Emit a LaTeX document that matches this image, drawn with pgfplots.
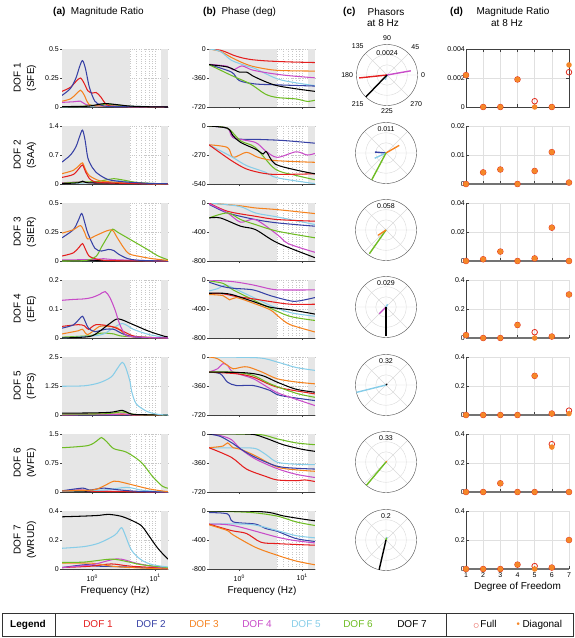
\documentclass[border=0pt]{standalone}
\usepackage{fontspec}
\setmainfont{Liberation Sans}
\newfontfamily\djv{DejaVu Sans}
\usepackage{pgfplots}
\pgfplotsset{compat=1.18}
\usepgfplotslibrary{polar}
\definecolor{c1}{RGB}{228,30,30}
\definecolor{c2}{RGB}{55,65,165}
\definecolor{c3}{RGB}{245,130,30}
\definecolor{c4}{RGB}{200,75,200}
\definecolor{c5}{RGB}{135,205,232}
\definecolor{c6}{RGB}{110,188,35}
\definecolor{c7}{RGB}{0,0,0}
\definecolor{fullc}{RGB}{225,45,30}
\definecolor{diagc}{RGB}{245,135,40}
\definecolor{bg}{RGB}{230,230,230}
\pgfplotsset{/pgf/number format/assume math mode=true}
\pgfplotsset{
  mybase/.style={scale only axis, height=58pt, scaled ticks=false,
    axis x line*=bottom, axis y line*=left,
    axis line style={black!75, line width=0.4pt},
    tick style={black!75, line width=0.4pt},
    major tick length=2pt, minor tick length=1.2pt,
    ticklabel style={font=\fontsize{7}{8}\selectfont},
    yticklabel style={inner sep=1pt},
    xlabel style={font=\fontsize{10}{12}\selectfont, yshift=2pt},
    every axis plot/.append style={line width=1.05pt, smooth, mark=none}},
  myfr/.style={mybase, width=106pt, xmin=0.33, xmax=16,
    xtick={1,10}, xticklabels={}, minor xtick={0.4,0.5,0.6,0.7,0.8,0.9,2,3,4,5,6,7,8,9},
    xmajorgrids, xminorgrids, ymajorgrids,
    grid style={black!22, dotted, line width=0.3pt}, tick align=outside},
  mydd/.style={mybase, width=103pt, xmin=1, xmax=7, xtick={1,2,3,4,5,6,7}, xticklabels={},
    ymin=0, clip=false, grid=major, grid style={black!12, line width=0.4pt},
    tick align=inside, major tick length=3pt,
    x axis line style={black!55, line width=1.1pt}},
  mypol/.style={scale only axis, width=61pt, height=61pt, ymin=0, scaled ticks=false,
    xtick={0,45,90,135,180,225,270,315}, xticklabels={}, yticklabels={},
    grid=major, grid style={black!15, line width=0.4pt},
    axis line style={black!70, line width=0.4pt}, y axis line style={draw=none},
    major tick length=0pt,
    ticklabel style={font=\fontsize{7}{8}\selectfont},
    every axis plot/.append style={line width=1.4pt}, clip=false},
  myfu/.style={only marks, mark=o, mark size=2.8pt, mark options={fullc, line width=0.8pt}},
  mydg/.style={only marks, mark=*, mark size=2.2pt, mark options={diagc, draw=diagc}},
}
\newcommand{\band}[1]{%
  \addplot[fill=bg, draw=none, sharp plot, forget plot] coordinates {(0.33,#1)(4,#1)} \closedcycle;
  \addplot[fill=bg, draw=none, sharp plot, forget plot] coordinates {(12.5,#1)(16,#1)} \closedcycle;}
\begin{document}
\begin{tikzpicture}
\path[use as bounding box] (0,0) rectangle (575pt,-638pt);
% headers
\begin{scope}[every node/.style={font=\fontsize{10}{12}\selectfont, inner sep=0pt}]
\node[anchor=west] at (53pt,-12pt) {\textbf{(a)}\ \ Magnitude Ratio};
\node[anchor=west] at (203pt,-12pt) {\textbf{(b)}\ \ Phase (deg)};
\node[anchor=west] at (343pt,-12pt) {\textbf{(c)}};
\node at (386pt,-12pt) {Phasors};
\node at (383pt,-23pt) {at 8 Hz};
\node[anchor=west] at (450pt,-12pt) {\textbf{(d)}};
\node at (513pt,-12pt) {Magnitude Ratio};
\node at (507pt,-23pt) {at 8 Hz};
\end{scope}
% row labels
\begin{scope}[every node/.style={font=\fontsize{10}{13.5}\selectfont, rotate=90, align=center}]
\node at (25pt,-78pt) {DOF 1\\(SFE)};
\node at (25pt,-155pt) {DOF 2\\(SAA)};
\node at (25pt,-232pt) {DOF 3\\(SIER)};
\node at (25pt,-309pt) {DOF 4\\(EFE)};
\node at (25pt,-386pt) {DOF 5\\(FPS)};
\node at (25pt,-463pt) {DOF 6\\(WFE)};
\node at (25pt,-540pt) {DOF 7\\(WRUD)};
\end{scope}

%================ ROW 1 =================
\begin{semilogxaxis}[myfr, at={(62pt,-49pt)}, anchor=north west, ymin=0, ymax=0.5, ytick={0,0.25,0.5}, yticklabels={0,0.25,0.5}]
\band{0.5}
\addplot[c5] coordinates {(0.33,0.002)(1.5,0.005)(3,0.008)(16,0)};
\addplot[c6] coordinates {(0.33,0.003)(0.7,0.005)(0.9,0.02)(1.1,0.01)(1.6,0.025)(2.2,0.02)(4,0.005)(16,0)};
\addplot[c4] coordinates {(0.33,0.04)(0.5,0.045)(0.65,0.05)(0.8,0.02)(1.2,0.01)(3,0.003)(16,0)};
\addplot[c3] coordinates {(0.33,0.05)(0.45,0.07)(0.55,0.11)(0.65,0.145)(0.75,0.10)(0.87,0.03)(1.2,0.01)(16,0)};
\addplot[c1] coordinates {(0.33,0.135)(0.45,0.17)(0.55,0.22)(0.65,0.25)(0.75,0.20)(0.85,0.14)(1.0,0.12)(1.15,0.125)(1.35,0.09)(1.7,0.02)(2.5,0.005)(16,0)};
\addplot[c2] coordinates {(0.33,0.10)(0.45,0.16)(0.55,0.25)(0.63,0.35)(0.7,0.40)(0.78,0.33)(0.9,0.17)(1.1,0.05)(1.4,0.015)(2,0.005)(16,0)};
\addplot[c7] coordinates {(0.33,0.004)(0.8,0.006)(1.2,0.02)(1.6,0.03)(2.5,0.02)(4,0.008)(8,0.002)(16,0)};
\end{semilogxaxis}
\begin{semilogxaxis}[myfr, at={(209pt,-49pt)}, anchor=north west, ymin=-720, ymax=0, ytick={-720,-360,0}, yticklabels={-720,-360,0}]
\band{-720}
\addplot[c1] coordinates {(0.33,0)(0.5,-15)(0.65,-46)(0.8,-76)(1.05,-105)(1.5,-130)(2.6,-147)(6,-160)(16,-168)};
\addplot[c3] coordinates {(0.33,0)(0.5,-30)(0.75,-105)(1.2,-180)(1.8,-223)(4,-265)(16,-274)};
\addplot[c5] coordinates {(0.33,0)(0.5,-30)(0.75,-140)(1.3,-210)(1.8,-244)(4,-370)(8,-420)(16,-455)};
\addplot[c4] coordinates {(0.33,-190)(0.65,-215)(0.8,-260)(1.1,-210)(1.6,-260)(3,-300)(6,-330)(16,-358)};
\addplot[c2] coordinates {(0.33,-194)(0.75,-286)(1,-392)(1.8,-434)(4,-445)(16,-460)};
\addplot[c6] coordinates {(0.33,-194)(0.75,-328)(1.5,-434)(2.6,-560)(4,-602)(8,-620)(12,-650)(16,-636)};
\addplot[c7] coordinates {(0.33,-194)(0.65,-223)(1,-286)(1.3,-286)(1.8,-350)(4,-455)(16,-526)};
\end{semilogxaxis}
\begin{polaraxis}[mypol, at={(387pt,-75pt)}, anchor=center, ymax=0.0024, ytick={0.0008,0.0016},
  xticklabels={0,45,90,135,180,215,225,270}]
\addplot[c5] coordinates {(0,0)(250,0.0004)};
\addplot[c1] coordinates {(0,0)(186,0.0022)};
\addplot[c4] coordinates {(0,0)(10,0.0019)};
\addplot[c7] coordinates {(0,0)(226,0.0024)};
\node[font=\fontsize{7}{8}\selectfont] at (axis cs:90,0.0017) {0.0024};
\end{polaraxis}
\begin{axis}[mydd, axis lines=box, at={(466pt,-49pt)}, anchor=north west, ymax=0.004, ytick={0,0.002,0.004}, yticklabels={0,0.002,0.004}]
\addplot[myfu] coordinates {(1,0.0022)(2,0)(3,0)(4,0.0019)(5,0.0004)(6,0)(7,0.0024)};
\addplot[mydg] coordinates {(1,0.0022)(2,0)(3,0)(4,0.0019)(5,0)(6,0)(7,0.0029)};
\end{axis}

%================ ROW 2 =================
\begin{semilogxaxis}[myfr, at={(62pt,-126pt)}, anchor=north west, ymin=0, ymax=1.4, ytick={0,0.7,1.4}, yticklabels={0,0.7,1.4}]
\band{1.4}
\addplot[c5] coordinates {(0.33,0.02)(1,0.03)(2.5,0.08)(4,0.04)(8,0.01)(16,0)};
\addplot[c4] coordinates {(0.33,0.03)(0.7,0.05)(1,0.03)(3,0.02)(16,0)};
\addplot[c6] coordinates {(0.33,0.02)(0.7,0.05)(1.2,0.06)(1.8,0.11)(2.2,0.13)(3,0.1)(5,0.04)(10,0.01)(16,0)};
\addplot[c7] coordinates {(0.33,0.01)(0.6,0.03)(0.7,0.07)(0.85,0.03)(2,0.02)(16,0.005)};
\addplot[c3] coordinates {(0.33,0.25)(0.5,0.33)(0.62,0.45)(0.7,0.51)(0.78,0.35)(0.9,0.2)(1.3,0.08)(2,0.05)(4,0.02)(16,0)};
\addplot[c1] coordinates {(0.33,0.16)(0.5,0.23)(0.62,0.38)(0.7,0.46)(0.78,0.3)(0.95,0.1)(1.5,0.03)(16,0)};
\addplot[c2] coordinates {(0.33,0.53)(0.45,0.7)(0.55,0.9)(0.63,1.15)(0.7,1.3)(0.77,1.05)(0.85,0.63)(1.0,0.4)(1.15,0.28)(1.7,0.12)(2.8,0.06)(7,0.02)(16,0.005)};
\end{semilogxaxis}
\begin{semilogxaxis}[myfr, at={(209pt,-126pt)}, anchor=north west, ymin=-540, ymax=0, ytick={-540,-270,0}, yticklabels={-540,-270,0}]
\band{-540}
\addplot[c2] coordinates {(0.33,0)(0.65,-21)(0.8,-107)(1.05,-123)(2,-125)(5,-135)(16,-160)};
\addplot[c4] coordinates {(0.33,0)(0.65,-21)(0.8,-107)(1.8,-153)(2.6,-230)(4,-292)(8,-240)(12,-270)(16,-255)};
\addplot[c6] coordinates {(0.33,0)(0.65,-21)(1.05,-138)(1.8,-200)(3.7,-400)(8,-460)(16,-500)};
\addplot[c3] coordinates {(0.33,-175)(0.65,-200)(0.8,-292)(1.3,-245)(2,-292)(3.7,-322)(16,-338)};
\addplot[c5] coordinates {(0.33,-175)(0.75,-285)(1.3,-368)(2.6,-430)(4,-482)(16,-537)};
\addplot[c1] coordinates {(0.33,-175)(0.75,-322)(1.3,-400)(2.4,-440)(4,-451)(16,-445)};
\addplot[c7] coordinates {(0.33,0)(0.65,-21)(0.8,-92)(1.05,-153)(1.8,-215)(2.4,-260)(2.7,-240)(3.7,-353)(8,-410)(16,-445)};
\end{semilogxaxis}
\begin{polaraxis}[mypol, at={(386pt,-153pt)}, anchor=center, ymax=0.011, ytick={0.0037,0.0073}]
\addplot[c2] coordinates {(0,0)(175,0.004)};
\addplot[c5] coordinates {(0,0)(205,0.0045)};
\addplot[c3] coordinates {(0,0)(30,0.0055)};
\addplot[c6] coordinates {(0,0)(242,0.011)};
\node[font=\fontsize{7}{8}\selectfont] at (axis cs:90,0.0087) {0.011};
\end{polaraxis}
\begin{axis}[mydd, at={(466pt,-126pt)}, anchor=north west, ymax=0.02, ytick={0,0.01,0.02}, yticklabels={0,0.01,0.02}]
\addplot[myfu] coordinates {(1,0)(2,0.004)(3,0.005)(4,0)(5,0.0045)(6,0.011)(7,0.0005)};
\addplot[mydg] coordinates {(1,0)(2,0.004)(3,0.005)(4,0)(5,0.0045)(6,0.011)(7,0.0005)};
\end{axis}

%================ ROW 3 =================
\begin{semilogxaxis}[myfr, at={(62pt,-203pt)}, anchor=north west, ymin=0, ymax=0.5, ytick={0,0.25,0.5}, yticklabels={0,0.25,0.5}]
\band{0.5}
\addplot[c5] coordinates {(0.33,0.002)(2,0.005)(16,0)};
\addplot[c7] coordinates {(0.33,0.003)(16,0.001)};
\addplot[c4] coordinates {(0.33,0.01)(1,0.012)(1.5,0.02)(2.5,0.01)(16,0)};
\addplot[c1] coordinates {(0.33,0.043)(0.5,0.07)(0.62,0.12)(0.7,0.15)(0.78,0.1)(0.9,0.04)(1.2,0.015)(2,0.003)(16,0)};
\addplot[c6] coordinates {(0.33,0)(0.8,0.005)(1.15,0.04)(1.4,0.12)(1.8,0.22)(2.1,0.275)(2.5,0.25)(4.5,0.17)(7.5,0.10)(11,0.045)(16,0.01)};
\addplot[c2] coordinates {(0.33,0.20)(0.5,0.27)(0.6,0.35)(0.68,0.41)(0.76,0.33)(0.85,0.24)(1.1,0.11)(1.4,0.086)(1.8,0.10)(2.2,0.09)(2.6,0.06)(3.7,0.02)(6,0.005)(16,0)};
\addplot[c3] coordinates {(0.33,0.24)(0.5,0.27)(0.65,0.305)(0.75,0.25)(0.85,0.19)(1.15,0.22)(1.7,0.26)(2.1,0.265)(2.5,0.2)(3.2,0.11)(3.9,0.06)(6,0.037)(9,0.02)(16,0.005)};
\end{semilogxaxis}
\begin{semilogxaxis}[myfr, at={(209pt,-203pt)}, anchor=north west, ymin=-800, ymax=0, ytick={-800,-400,0}, yticklabels={-800,-400,0}]
\band{-800}
\addplot[c3] coordinates {(0.33,0)(1,-37)(1.8,-68)(4,-91)(16,-146)};
\addplot[c5] coordinates {(0.33,0)(1,-46)(1.8,-137)(4,-192)(16,-297)};
\addplot[c1] coordinates {(0.33,0)(0.65,-114)(1.8,-183)(4,-228)(16,-251)};
\addplot[c2] coordinates {(0.33,-18)(0.65,-137)(1.8,-228)(4,-274)(16,-320)};
\addplot[c4] coordinates {(0.33,-10)(0.65,-137)(1.05,-265)(1.8,-228)(4,-434)(6,-560)(16,-680)};
\addplot[c6] coordinates {(0.33,-206)(0.65,-137)(1.05,-228)(1.8,-297)(4,-388)(16,-480)};
\addplot[c7] coordinates {(0.33,-206)(0.5,-206)(1.05,-320)(1.8,-366)(4,-548)(16,-754)};
\end{semilogxaxis}
\begin{polaraxis}[mypol, at={(386pt,-230pt)}, anchor=center, ymax=0.058, ytick={0.0193,0.0387}]
\addplot[c6] coordinates {(0,0)(235,0.055)};
\addplot[c3] coordinates {(0,0)(214,0.018)};
\node[font=\fontsize{7}{8}\selectfont] at (axis cs:90,0.046) {0.058};
\end{polaraxis}
\begin{axis}[mydd, at={(466pt,-203pt)}, anchor=north west, ymax=0.04, ytick={0,0.02,0.04}, yticklabels={0,0.02,0.04}]
\addplot[myfu] coordinates {(1,0)(2,0.0012)(3,0.0065)(4,0)(5,0.0018)(6,0.023)(7,0)};
\addplot[mydg] coordinates {(1,0)(2,0.0012)(3,0.0065)(4,0)(5,0.0018)(6,0.023)(7,0)};
\end{axis}

%================ ROW 4 =================
\begin{semilogxaxis}[myfr, at={(62pt,-280pt)}, anchor=north west, ymin=0, ymax=0.2, ytick={0,0.1,0.2}, yticklabels={0,0.1,0.2}]
\band{0.2}
\addplot[c6] coordinates {(0.33,0.003)(0.9,0.008)(1.4,0.017)(2.2,0.014)(3.2,0.006)(16,0)};
\addplot[c5] coordinates {(0.33,0)(1.3,0.01)(2,0.03)(3,0.05)(4.5,0.03)(8,0.012)(16,0)};
\addplot[c3] coordinates {(0.33,0.014)(0.6,0.025)(0.7,0.03)(0.85,0.012)(1.3,0.04)(1.7,0.04)(2.5,0.035)(4,0.005)(16,0)};
\addplot[c1] coordinates {(0.33,0.04)(0.6,0.046)(0.75,0.042)(0.87,0.03)(1.15,0.046)(2,0.04)(3.1,0.023)(5,0.005)(16,0)};
\addplot[c2] coordinates {(0.33,0.034)(0.5,0.045)(0.62,0.065)(0.7,0.075)(0.78,0.055)(0.87,0.034)(1.1,0.022)(1.6,0.03)(2.2,0.03)(3,0.015)(5,0.003)(16,0)};
\addplot[c7] coordinates {(0.33,0)(0.9,0.005)(1.3,0.023)(1.9,0.05)(2.6,0.066)(4.5,0.046)(8,0.023)(14,0.006)(16,0.004)};
\addplot[c4] coordinates {(0.33,0.13)(0.5,0.133)(0.75,0.135)(1,0.14)(1.3,0.15)(1.6,0.16)(1.9,0.14)(2.3,0.097)(2.7,0.05)(3.2,0.018)(4,0.005)(16,0)};
\end{semilogxaxis}
\begin{semilogxaxis}[myfr, at={(209pt,-280pt)}, anchor=north west, ymin=-800, ymax=0, ytick={-800,-400,0}, yticklabels={-800,-400,0}]
\band{-800}
\addplot[c5] coordinates {(0.33,-150)(0.45,-120)(0.6,-70)(0.8,-110)(1.67,-240)(3.1,-350)(6.5,-450)(16,-500)};
\addplot[c6] coordinates {(0.33,-14)(0.55,-46)(0.8,-137)(1.67,-274)(3.1,-388)(6.5,-503)(16,-558)};
\addplot[c2] coordinates {(0.33,-30)(0.55,-91)(0.8,-114)(1.67,-137)(3.1,-215)(6.5,-288)(9,-288)(16,-242)};
\addplot[c4] coordinates {(0.33,0)(0.8,-23)(1.67,-69)(3.1,-123)(4.5,-137)(16,-137)};
\addplot[c1] coordinates {(0.33,-183)(0.55,-190)(0.9,-228)(1.67,-260)(3.1,-297)(6.5,-334)(16,-334)};
\addplot[c3] coordinates {(0.33,-200)(0.55,-215)(0.7,-274)(0.9,-242)(1.67,-320)(3.1,-411)(4.5,-525)(6.5,-617)(16,-717)};
\addplot[c7] coordinates {(0.33,-183)(0.55,-183)(0.8,-206)(1.67,-297)(3.1,-375)(6.5,-411)(16,-470)};
\end{semilogxaxis}
\begin{polaraxis}[mypol, at={(386pt,-307pt)}, anchor=center, ymax=0.029, ytick={0.0097,0.0193}]
\addplot[c5] coordinates {(0,0)(60,0.003)};
\addplot[c4] coordinates {(0,0)(225,0.009)};
\addplot[c7] coordinates {(0,0)(270,0.028)};
\node[font=\fontsize{7}{8}\selectfont] at (axis cs:90,0.023) {0.029};
\end{polaraxis}
\begin{axis}[mydd, at={(466pt,-280pt)}, anchor=north west, ymax=0.4, ytick={0,0.2,0.4}, yticklabels={0,0.2,0.4}]
\addplot[myfu] coordinates {(1,0.02)(2,0)(3,0)(4,0.09)(5,0.04)(6,0.01)(7,0.3)};
\addplot[mydg] coordinates {(1,0.02)(2,0)(3,0)(4,0.09)(5,0)(6,0.01)(7,0.3)};
\end{axis}

%================ ROW 5 =================
\begin{semilogxaxis}[myfr, at={(62pt,-357pt)}, anchor=north west, ymin=0, ymax=2.5, ytick={0,1.25,2.5}, yticklabels={0,1.25,2.5}]
\band{2.5}
\addplot[c2] coordinates {(0.33,0.005)(16,0)};
\addplot[c1] coordinates {(0.33,0.02)(3,0.03)(5,0.005)(16,0)};
\addplot[c3] coordinates {(0.33,0.02)(2.5,0.04)(5,0.005)(16,0)};
\addplot[c4] coordinates {(0.33,0.01)(2,0.02)(3,0.05)(4.5,0.01)(16,0)};
\addplot[c6] coordinates {(0.33,0.04)(1.5,0.05)(3,0.13)(4,0.05)(6,0.01)(16,0)};
\addplot[c7] coordinates {(0.33,0.08)(1,0.09)(2,0.12)(3,0.2)(3.8,0.08)(5,0.02)(16,0)};
\addplot[c5] coordinates {(0.33,1.24)(0.75,1.26)(1.3,1.39)(2,1.64)(2.5,2.0)(3,2.27)(3.4,2.05)(4,1.42)(4.2,1.05)(5,0.48)(7.5,0.15)(11,0.03)(16,0)};
\end{semilogxaxis}
\begin{semilogxaxis}[myfr, at={(209pt,-357pt)}, anchor=north west, ymin=-720, ymax=0, ytick={-720,-360,0}, yticklabels={-720,-360,0}]
\band{-720}
\addplot[c5] coordinates {(0.33,0)(2,-10)(4,-62)(8,-130)(16,-166)};
\addplot[c2] coordinates {(0.33,-187)(0.5,-208)(0.65,-312)(0.9,-354)(1.67,-354)(3.1,-416)(4.5,-478)(16,-541)};
\addplot[c4] coordinates {(0.33,-187)(0.45,-146)(0.55,-83)(0.65,-104)(0.8,-187)(1.67,-270)(3.1,-395)(4.5,-458)(16,-603)};
\addplot[c1] coordinates {(0.33,-187)(0.9,-208)(1.67,-250)(4,-374)(16,-458)};
\addplot[c6] coordinates {(0.33,-187)(0.8,-187)(1.67,-229)(3.1,-333)(8,-450)(16,-500)};
\addplot[c3] coordinates {(0.33,0)(0.45,-21)(0.65,-104)(0.8,-146)(1.1,-125)(1.4,-125)(2.3,-187)(4,-270)(8,-310)(16,-333)};
\addplot[c7] coordinates {(0.33,-187)(1.2,-195)(2.3,-229)(4,-312)(8,-400)(16,-437)};
\end{semilogxaxis}
\begin{polaraxis}[mypol, at={(386pt,-385pt)}, anchor=center, ymax=0.32, ytick={0.107,0.213}]
\addplot[c5] coordinates {(0,0)(194,0.32)};
\addplot[c7] coordinates {(0,0)(45,0.015)};
\node[font=\fontsize{7}{8}\selectfont] at (axis cs:90,0.25) {0.32};
\end{polaraxis}
\begin{axis}[mydd, at={(466pt,-357pt)}, anchor=north west, ymax=0.4, ytick={0,0.2,0.4}, yticklabels={0,0.2,0.4}]
\addplot[myfu] coordinates {(1,0)(2,0)(3,0)(4,0)(5,0.27)(6,0.01)(7,0.03)};
\addplot[mydg] coordinates {(1,0)(2,0)(3,0)(4,0)(5,0.27)(6,0.01)(7,0.01)};
\end{axis}

%================ ROW 6 =================
\begin{semilogxaxis}[myfr, at={(62pt,-434pt)}, anchor=north west, ymin=0, ymax=1.5, ytick={0,0.75,1.5}, yticklabels={0,0.75,1.5}]
\band{1.5}
\addplot[c7] coordinates {(0.33,0.01)(16,0.005)};
\addplot[c4] coordinates {(0.33,0.03)(0.6,0.05)(1,0.025)(3,0.015)(16,0)};
\addplot[c1] coordinates {(0.33,0.02)(0.7,0.05)(1,0.02)(3,0.01)(16,0)};
\addplot[c5] coordinates {(0.33,0.02)(1.5,0.05)(3.5,0.12)(6,0.05)(10,0.02)(16,0.005)};
\addplot[c2] coordinates {(0.33,0.03)(0.7,0.1)(0.9,0.05)(1.5,0.1)(2.5,0.06)(5,0.02)(16,0)};
\addplot[c3] coordinates {(0.33,0.03)(1,0.05)(1.5,0.15)(2.2,0.28)(3,0.25)(4,0.2)(8,0.08)(14,0.02)(16,0.01)};
\addplot[c6] coordinates {(0.33,1.145)(0.85,1.2)(1.2,1.33)(1.4,1.41)(1.7,1.3)(2.2,1.12)(3.5,1.03)(6,0.77)(9,0.41)(13,0.15)(16,0.1)};
\end{semilogxaxis}
\begin{semilogxaxis}[myfr, at={(209pt,-434pt)}, anchor=north west, ymin=-720, ymax=0, ytick={-720,-360,0}, yticklabels={-720,-360,0}]
\band{-720}
\addplot[c6] coordinates {(0.33,0)(2,-5)(4,-60)(8,-110)(16,-133)};
\addplot[c5] coordinates {(0.33,-174)(1,-172)(1.8,-180)(2.6,-250)(4,-350)(8,-375)(16,-380)};
\addplot[c3] coordinates {(0.33,-170)(0.55,-150)(0.65,-110)(0.8,-170)(1.05,-190)(1.8,-270)(4,-410)(8,-445)(16,-463)};
\addplot[c4] coordinates {(0.33,0)(0.5,-20)(0.75,-70)(1.05,-186)(1.8,-310)(4,-430)(8,-500)(16,-540)};
\addplot[c2] coordinates {(0.33,0)(0.5,-30)(0.8,-120)(1.05,-186)(1.8,-290)(4,-400)(8,-425)(16,-435)};
\addplot[c1] coordinates {(0.33,-170)(0.75,-290)(1.3,-435)(2.6,-525)(4,-570)(8,-580)(11,-570)(16,-590)};
\addplot[c7] coordinates {(0.33,0)(1.5,-2)(2.6,-50)(5,-133)(10,-190)(16,-215)};
\end{semilogxaxis}
\begin{polaraxis}[mypol, at={(386pt,-462pt)}, anchor=center, ymax=0.33, ytick={0.11,0.22}]
\addplot[c3] coordinates {(0,0)(40,0.012)};
\addplot[c6] coordinates {(0,0)(230,0.33)};
\node[font=\fontsize{7}{8}\selectfont] at (axis cs:90,0.26) {0.33};
\end{polaraxis}
\begin{axis}[mydd, at={(466pt,-434pt)}, anchor=north west, ymax=0.4, ytick={0,0.2,0.4}, yticklabels={0,0.2,0.4}]
\addplot[myfu] coordinates {(1,0)(2,0)(3,0.06)(4,0)(5,0)(6,0.33)(7,0)};
\addplot[mydg] coordinates {(1,0)(2,0)(3,0.06)(4,0)(5,0)(6,0.31)(7,0)};
\end{axis}

%================ ROW 7 =================
\begin{semilogxaxis}[myfr, at={(62pt,-511pt)}, anchor=north west, ymin=0, ymax=0.4, ytick={0,0.2,0.4}, yticklabels={0,0.2,0.4},
  xticklabels={10\textsuperscript{0},10\textsuperscript{1}}, xlabel={Frequency (Hz)}]
\band{0.4}
\addplot[c2] coordinates {(0.33,0.01)(0.8,0.03)(1.2,0.02)(3,0.015)(16,0)};
\addplot[c1] coordinates {(0.33,0.01)(1,0.02)(2,0.035)(4,0.02)(16,0.005)};
\addplot[c3] coordinates {(0.33,0.041)(1,0.04)(2,0.02)(4,0.01)(16,0)};
\addplot[c4] coordinates {(0.33,0.01)(1,0.03)(2.5,0.07)(5,0.04)(10,0.015)(16,0.01)};
\addplot[c6] coordinates {(0.33,0.045)(0.75,0.048)(2,0.068)(3.5,0.052)(6,0.03)(16,0.01)};
\addplot[c5] coordinates {(0.33,0.143)(0.75,0.155)(1.3,0.18)(2.3,0.235)(2.9,0.285)(3.3,0.24)(4.2,0.13)(6,0.063)(9,0.03)(16,0.014)};
\addplot[c7] coordinates {(0.33,0.36)(0.75,0.365)(1.3,0.37)(1.8,0.377)(2.8,0.365)(4,0.34)(6,0.30)(7.5,0.245)(10.5,0.155)(13.5,0.1)(16,0.068)};
\end{semilogxaxis}
\begin{semilogxaxis}[myfr, at={(209pt,-511pt)}, anchor=north west, ymin=-800, ymax=0, ytick={-800,-400,0}, yticklabels={-800,-400,0},
  xticklabels={10\textsuperscript{0},10\textsuperscript{1}}, xlabel={Frequency (Hz)}]
\band{-800}
\addplot[c6] coordinates {(0.33,0)(1.5,-20)(4,-70)(8,-150)(16,-200)};
\addplot[c2] coordinates {(0.33,-22)(0.65,-40)(0.8,-150)(1.8,-180)(2.6,-240)(4,-280)(8,-380)(16,-420)};
\addplot[c5] coordinates {(0.33,-180)(1.5,-185)(4,-270)(8,-340)(16,-370)};
\addplot[c4] coordinates {(0.33,-180)(0.8,-200)(4,-360)(8,-410)(16,-440)};
\addplot[c1] coordinates {(0.33,-180)(0.75,-270)(1.3,-310)(2.2,-430)(4,-450)(16,-472)};
\addplot[c3] coordinates {(0.33,-190)(0.65,-270)(0.8,-330)(1.8,-500)(4,-610)(8,-690)(16,-742)};
\addplot[c7] coordinates {(0.33,0)(1.5,-3)(3,-20)(5,-67)(10,-110)(16,-135)};
\end{semilogxaxis}
\begin{polaraxis}[mypol, at={(386pt,-540pt)}, anchor=center, ymax=0.2, ytick={0.0667,0.1333}]
\addplot[c5] coordinates {(0,0)(70,0.02)};
\addplot[c6] coordinates {(0,0)(80,0.015)};
\addplot[c7] coordinates {(0,0)(257,0.2)};
\node[font=\fontsize{7}{8}\selectfont] at (axis cs:90,0.158) {0.2};
\end{polaraxis}
\begin{axis}[mydd, at={(466pt,-511pt)}, anchor=north west, ymax=0.4, ytick={0,0.2,0.4}, yticklabels={0,0.2,0.4},
  xticklabels={1,2,3,4,5,6,7}, xlabel={Degree of Freedom}]
\addplot[myfu] coordinates {(1,0)(2,0)(3,0)(4,0.03)(5,0.02)(6,0.01)(7,0.2)};
\addplot[mydg] coordinates {(1,0)(2,0)(3,0)(4,0.03)(5,0)(6,0.01)(7,0.2)};
\end{axis}

% legend
\draw[black!80, line width=0.6pt] (2pt,-613pt) rectangle (573pt,-636pt);
\draw[black!80, line width=0.6pt] (55pt,-613pt) -- (55pt,-636pt);
\draw[black!80, line width=0.6pt] (446pt,-613pt) -- (446pt,-636pt);
\begin{scope}[every node/.style={font=\fontsize{10}{12}\selectfont}]
\node at (28pt,-624.5pt) {\textbf{Legend}};
\node[text=c1] at (98pt,-624.5pt) {DOF 1};
\node[text=c2] at (151pt,-624.5pt) {DOF 2};
\node[text=c3] at (204pt,-624.5pt) {DOF 3};
\node[text=c4] at (257pt,-624.5pt) {DOF 4};
\node[text=c5] at (306pt,-624.5pt) {DOF 5};
\node[text=c6] at (358pt,-624.5pt) {DOF 6};
\node[text=c7] at (412pt,-624.5pt) {DOF 7};
\node[anchor=west] at (470pt,-624.5pt) {\textcolor{fullc}{\djv\fontsize{6}{8}\selectfont ○}\,Full};
\node[anchor=west] at (512pt,-624.5pt) {\textcolor{diagc}{\djv\fontsize{9}{8}\selectfont •}\,Diagonal};
\end{scope}
\end{tikzpicture}
\end{document}
